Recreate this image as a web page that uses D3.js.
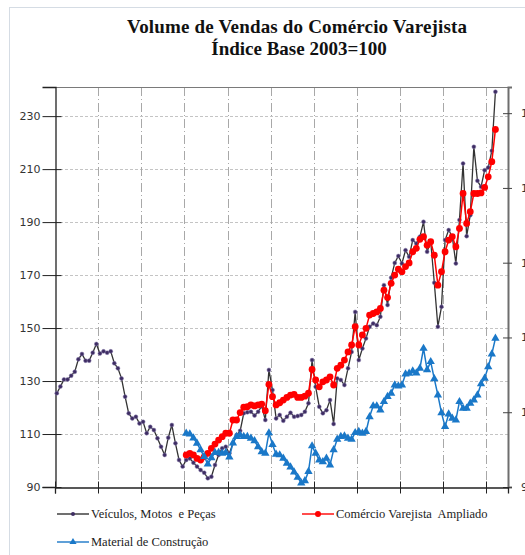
<!DOCTYPE html>
<html><head><meta charset="utf-8">
<script src="https://cdn.jsdelivr.net/npm/d3@7"></script>
<style>body{margin:0;background:#fff}svg{display:block}</style>
</head><body>
<script>
// ---- data ----
const years = ["2000","2001","2002","2003","2004","2005","2006","2007","2008","2009","2010"];
const monthNames = ["jan","fev","mar","abr","mai","jun","jul","ago","set","out","nov","dez"];
const seriesStart = { veiculos: 0, comercio: 36, material: 36 };
const veiculos = [
 125.4,127.9,130.6,130.6,132,133.5,138.2,140.2,137.7,137.7,140.7,144,
 140.4,141.2,140.7,141.2,136.7,134.8,131,124.1,117.8,115.9,116.5,114,
 114.6,110.3,112.7,111.5,108.4,105.2,102.1,108.6,113.4,106.5,100.2,97.7,
 100.2,100.8,99.2,97.7,96.4,95.4,93.3,93.9,98.3,102.1,104.6,105.2,
 102.7,106.5,109.6,111.2,117.8,118.2,118.4,117,118.4,120.5,115.3,134.2,
 126.6,115.9,117.2,115,116.5,118,116.5,116.8,117.2,118.4,121.6,137.9,
 127.8,120.3,117.8,119,122.8,113.8,131,130.4,128.5,134.8,141,156.1,
 137.9,142.3,146.1,150.5,151.7,151.1,154.3,166.2,158.7,169,174.6,177.2,
 174.4,179.4,176.9,183.2,181.9,184.5,190.1,178.8,182.6,167.1,150.5,158,
 183.2,187,184.5,174.4,190.8,212.1,184.7,192.6,218.4,205.6,203.3,209.6,
 210.6,216.9,239.2];
const comercio = [
 102.1,102.7,102.1,100.8,100.2,101.4,102.7,104.6,106.2,107.7,109,110.3,
 110.3,115.3,115.3,118.1,120.1,120.3,121,120.6,121,121.3,118.8,128.7,
 124.1,121,121.8,122.8,123.8,124.7,125,123.8,123.8,124.3,125.4,134.4,
 130.4,127.8,129.7,130.4,131.6,128.5,134.8,136,137.9,141,143.6,150.5,
 143.6,147.4,149.9,154.9,155.5,156.1,157.4,164.3,161.5,166.9,170,172.2,
 171.3,173.2,174.6,178.8,180.1,183.5,184.5,181.3,182.6,177.5,166.2,171.3,
 178.8,183.2,184.5,180.7,187.6,200.8,189.5,193.9,200.8,200.8,201,203.1,
 207.1,212.8,225];
const material = [
 110.3,110,108.5,106.5,104,101.5,98.6,101,103,103,102.7,103,
 101.3,106.6,109,109.6,109,109,108.4,107.4,105.2,103.3,102.7,110.4,
 106,102.3,102.1,100.8,98.9,97.5,95.6,93.6,91.5,92.3,95.8,105.5,
 102.7,100.2,99.5,100.8,98.3,104,108,109,109.2,108.4,108,110.5,
 110.9,110.3,110.9,116.5,120.6,120.6,119,122.2,124.1,125.4,128.5,128.1,
 128.5,132.6,132.9,133.8,133,134.8,142.3,134.2,137.3,130.8,124.7,118,
 112.8,117.5,115.9,115.3,122.2,119.7,119.7,121.6,122.8,124.7,128.9,131,
 135.4,140.2,146.1];
const leftTicks = [90,110,130,150,170,190,210,230];
const rightTicks = [90,100,110,120,130,140];
const titleLines = ["Volume de Vendas do Comércio Varejista","Índice Base 2003=100"];
const legendLabels = ["Veículos, Motos  e Peças","Comércio Varejista  Ampliado","Material de Construção"];

// categories: months Jan 2000 .. Jun 2010 (axis extent)
const months = [];
years.forEach((y,yi)=>monthNames.forEach((m,mi)=>{ if(yi<10||mi<6) months.push(m+"/"+y); }));

// ---- layout ----
const W=525,H=555;
const L=55,R=508,T=87,B=487;
const svg=d3.select("body").append("svg").attr("width",W).attr("height",H);

svg.append("rect").attr("x",9.5).attr("y",7.5).attr("width",540).attr("height",560)
  .attr("fill","#fff").attr("stroke","#d5dce4").attr("stroke-width",1);

const x=d3.scaleBand().domain(d3.range(months.length)).range([L,R]).paddingInner(0).paddingOuter(0);
const cx=i=>x(i)+x.bandwidth()/2;
const y=d3.scaleLinear().domain([90,241]).range([B,T]);
const yR=d3.scaleLinear().domain([90,143.5]).range([B,T]);

// grid
svg.append("g").selectAll("line").data(leftTicks.filter(d=>d>90)).join("line")
  .attr("x1",L).attr("x2",R).attr("y1",d=>Math.round(y(d))+0.5).attr("y2",d=>Math.round(y(d))+0.5)
  .attr("stroke","#c4c4c4").attr("stroke-width",1).attr("stroke-dasharray","3,2");
const yearIdx=years.map((d,i)=>i*12).filter(i=>i>0);
svg.append("g").selectAll("line").data(yearIdx).join("line")
  .attr("x1",d=>Math.round(x(d))+0.5).attr("x2",d=>Math.round(x(d))+0.5).attr("y1",T).attr("y2",B)
  .attr("stroke","#a8a8a8").attr("stroke-width",1).attr("stroke-dasharray","9,3,1,3");

// frame top
svg.append("line").attr("x1",L).attr("x2",R).attr("y1",T+0.5).attr("y2",T+0.5).attr("stroke","#7a7a7a");

// left axis
const gl=svg.append("g").attr("transform",`translate(${L+0.5},0)`)
  .call(d3.axisLeft(y).tickValues(leftTicks).tickSize(13).tickPadding(2).tickFormat(d3.format("d")));
gl.select(".domain").attr("stroke","#222").attr("stroke-width",1.3);
gl.selectAll(".tick line").attr("stroke","#222").attr("x2",-13).attr("x1",6);
gl.selectAll("text").attr("font-family","DejaVu Sans").attr("font-size",11).attr("fill","#333");

// right axis (labels run past the picture's right edge, as in the original)
const gr=svg.append("g").attr("transform",`translate(${R},0)`)
  .call(d3.axisRight(yR).tickValues(rightTicks).tickSize(4).tickPadding(9).tickFormat(d3.format("d")));
gr.select(".domain").attr("stroke","#6e6e6e").attr("stroke-width",2);
gr.selectAll(".tick line").attr("stroke","#444").attr("x1",-5).attr("x2",4);
gr.selectAll("text").attr("font-family","DejaVu Sans").attr("font-size",11).attr("fill","#333");

// bottom axis
const tickIdx=years.map((d,i)=>i*12);
const gb=svg.append("g").attr("transform",`translate(0,${B+0.5})`)
  .call(d3.axisBottom(x).tickValues(tickIdx).tickSize(6).tickFormat(""));
gb.select(".domain").attr("stroke","#222").attr("stroke-width",1.3);
gb.selectAll(".tick").attr("transform",d=>`translate(${Math.round(x(d))+0.5},0)`);
gb.selectAll(".tick line").attr("stroke","#222").attr("y1",-6).attr("y2",6);

// series
const line=start=>d3.line().x((d,i)=>cx(start+i)).y(d=>y(d));
const tri=d3.symbol().type(d3.symbolTriangle).size(30);

svg.append("path").datum(veiculos).attr("d",line(seriesStart.veiculos))
  .attr("fill","none").attr("stroke","#333").attr("stroke-width",1.3);
svg.append("g").selectAll("circle").data(veiculos).join("circle")
  .attr("cx",(d,i)=>cx(seriesStart.veiculos+i)).attr("cy",d=>y(d)).attr("r",2)
  .attr("fill","#3e2d63").attr("stroke","#8d80b0").attr("stroke-width",0.5);

svg.append("path").datum(comercio).attr("d",line(seriesStart.comercio))
  .attr("fill","none").attr("stroke","#ff0000").attr("stroke-width",1.5);
svg.append("g").selectAll("circle").data(comercio).join("circle")
  .attr("cx",(d,i)=>cx(seriesStart.comercio+i)).attr("cy",d=>y(d)).attr("r",3.4)
  .attr("fill","#ff0000");

svg.append("path").datum(material).attr("d",line(seriesStart.material))
  .attr("fill","none").attr("stroke","#1a78c8").attr("stroke-width",1.5);
svg.append("g").selectAll("path").data(material).join("path")
  .attr("d",tri).attr("transform",(d,i)=>`translate(${cx(seriesStart.material+i)},${y(d)})`)
  .attr("fill","#1a78c8");

// title
svg.append("text").attr("x",297).attr("y",33).attr("text-anchor","middle")
  .attr("font-family","Liberation Serif").attr("font-weight","bold").attr("font-size",19).attr("fill","#111")
  .attr("textLength",340).attr("lengthAdjust","spacing")
  .text(titleLines[0]);
svg.append("text").attr("x",299).attr("y",54.5).attr("text-anchor","middle")
  .attr("font-family","Liberation Serif").attr("font-weight","bold").attr("font-size",19).attr("fill","#111")
  .text(titleLines[1]);

// legend
const lg=svg.append("g").attr("font-family","Liberation Serif").attr("font-size",12.5).attr("fill","#222");
const items=[
 {x:57,y:514,c:"#333",m:"dot",t:legendLabels[0]},
 {x:302,y:514,c:"#ff0000",m:"red",t:legendLabels[1]},
 {x:57,y:542,c:"#1a78c8",m:"tri",t:legendLabels[2]}];
items.forEach(it=>{
  lg.append("line").attr("x1",it.x).attr("x2",it.x+32).attr("y1",it.y).attr("y2",it.y)
    .attr("stroke",it.c).attr("stroke-width",1.4);
  if(it.m==="dot") lg.append("circle").attr("cx",it.x+16).attr("cy",it.y).attr("r",2).attr("fill","#3e2d63");
  if(it.m==="red") lg.append("circle").attr("cx",it.x+16).attr("cy",it.y).attr("r",3).attr("fill","#ff0000");
  if(it.m==="tri") lg.append("path").attr("d",d3.symbol().type(d3.symbolTriangle).size(22)()).attr("transform",`translate(${it.x+16},${it.y})`).attr("fill","#1a78c8");
  lg.append("text").attr("x",it.x+34).attr("y",it.y+4).text(it.t).style("white-space","pre");
});
</script>
</body></html>
